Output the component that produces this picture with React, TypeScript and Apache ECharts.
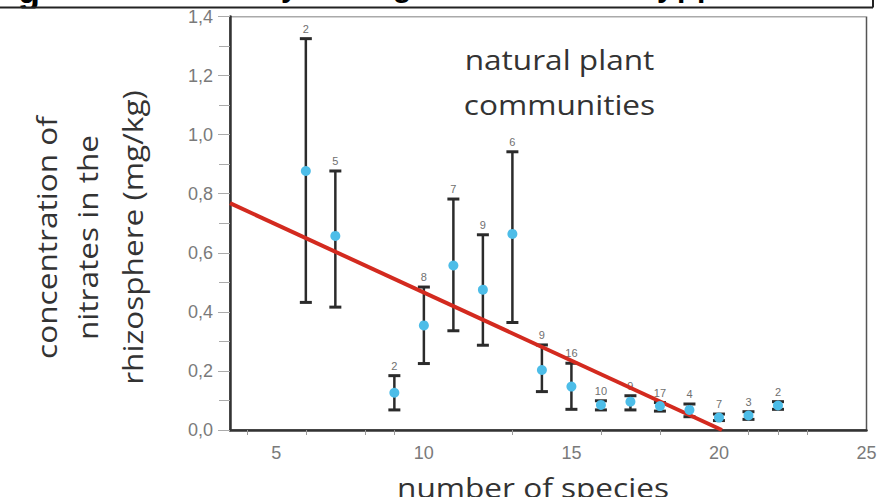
import React, { useEffect, useRef } from "react";
import * as echarts from "echarts";

const speciesCounts = [6, 7, 9, 10, 11, 12, 13, 14, 15, 16, 17, 18, 19, 20, 21, 22];
const meanNitrate = [0.877, 0.657, 0.126, 0.354, 0.557, 0.475, 0.664, 0.203, 0.147, 0.085, 0.096, 0.081, 0.068, 0.042, 0.049, 0.083];
const upperNitrate = [1.325, 0.877, 0.184, 0.484, 0.782, 0.661, 0.942, 0.288, 0.226, 0.099, 0.116, 0.093, 0.088, 0.054, 0.062, 0.096];
const lowerNitrate = [0.432, 0.416, 0.068, 0.225, 0.336, 0.287, 0.364, 0.13, 0.07, 0.068, 0.068, 0.064, 0.045, 0.032, 0.036, 0.07];
const sampleSizes = ["2", "5", "2", "8", "7", "9", "6", "9", "16", "10", "9", "17", "4", "7", "3", "2"];
const trendX = [3.43, 20.1];
const trendY = [0.768, 0];
const xLabelValues = [5, 10, 15, 20, 25];
const xTickValues = [4, 6, 8, 9, 13, 16, 18, 21, 22, 23];
const yAxisTitleLines = ["concentration of", "nitrates in the", "rhizosphere (mg/kg)"];
const annotationLines = ["natural plant", "communities"];
const xAxisTitle = "number of species";
const titleFragments = ["g", "y", "g", "y", "p", "p"];

export default function App() {
  const ref = useRef<HTMLDivElement>(null);

  useEffect(() => {
    if (!ref.current) return;
    const chart = echarts.init(ref.current, undefined, { renderer: "svg" });

    const errData = speciesCounts.map((x, i) => [x, lowerNitrate[i], upperNitrate[i]]);
    const pointData = speciesCounts.map((x, i) => [x, meanNitrate[i]]);
    const trendData = trendX.map((x, i) => [x, trendY[i]]);

    const textFont = '27px "Open Sans"';
    const textColor = "#333";
    const stretch = 1.17;

    const yTitleX = [47, 88, 133];
    const fragX = [18, 281, 393, 657, 677, 697];

    const graphic: any[] = [
      ...titleFragments.map((t, i) => ({
        type: "text",
        x: fragX[i],
        y: i === 0 ? -10 : -14,
        style: {
          text: t,
          font: i === 0 ? 'bold 36px "Liberation Sans"' : 'bold 30px "Liberation Sans"',
          fill: "#000",
          align: "left",
          textAlign: "left",
          verticalAlign: "middle",
          textVerticalAlign: "middle",
        },
      })),
      { type: "rect", shape: { x: 0, y: 8.5, width: 884, height: 8 }, style: { fill: "#fff" } },
      { type: "line", shape: { x1: 0, y1: 7.5, x2: 873, y2: 7.5 }, style: { stroke: "#222", lineWidth: 2 } },
      { type: "line", shape: { x1: 873, y1: 0, x2: 873, y2: 7.5 }, style: { stroke: "#222", lineWidth: 2 } },
      ...yAxisTitleLines.map((t, i) => ({
        type: "text",
        x: yTitleX[i],
        y: 237.5,
        rotation: Math.PI / 2,
        scaleX: stretch,
        style: {
          text: t,
          font: textFont,
          fill: textColor,
          align: "center",
          textAlign: "center",
          verticalAlign: "middle",
          textVerticalAlign: "middle",
        },
      })),
      ...annotationLines.map((t, i) => ({
        type: "text",
        x: 559.5,
        y: 60 + i * 45,
        scaleX: stretch,
        style: {
          text: t,
          font: textFont,
          fill: textColor,
          align: "center",
          textAlign: "center",
          verticalAlign: "middle",
          textVerticalAlign: "middle",
        },
      })),
      {
        type: "text",
        x: 533,
        y: 488,
        scaleX: stretch,
        style: {
          text: xAxisTitle,
          font: textFont,
          fill: textColor,
          align: "center",
          textAlign: "center",
          verticalAlign: "middle",
          textVerticalAlign: "middle",
        },
      },
    ];

    chart.setOption({
      animation: false,
      backgroundColor: "#fff",
      grid: {
        left: 230,
        right: 17.5,
        top: 16.5,
        bottom: 67,
        show: true,
        borderColor: "#555",
        borderWidth: 1.5,
      },
      xAxis: {
        type: "value",
        min: 3.43,
        max: 25,
        axisLine: { show: true, onZero: false, lineStyle: { color: "#333", width: 2.5 } },
        splitLine: { show: false },
        axisTick: {
          show: true,
          customValues: xTickValues,
          length: 5,
          lineStyle: { color: "#999", width: 1 },
        },
        axisLabel: {
          customValues: xLabelValues,
          margin: 14,
          color: "#7a7a7a",
          fontSize: 18,
          fontFamily: "Liberation Sans",
        },
      },
      yAxis: {
        type: "value",
        min: 0,
        max: 1.4,
        interval: 0.2,
        axisLine: { show: true, onZero: false, lineStyle: { color: "#333", width: 2.5 } },
        splitLine: { show: false },
        axisTick: { show: true, length: 12, lineStyle: { color: "#aaa", width: 1 } },
        minorTick: { show: true, splitNumber: 2, length: 11, lineStyle: { color: "#aaa", width: 1 } },
        axisLabel: {
          margin: 17,
          color: "#7a7a7a",
          fontSize: 18,
          fontFamily: "Liberation Sans",
          formatter: (v: number) => v.toFixed(1).replace(".", ","),
        },
      },
      series: [
        {
          type: "custom",
          z: 1,
          clip: false,
          data: errData,
          encode: { x: 0, y: [1, 2] },
          renderItem: (params: any, api: any) => {
            const x = api.value(0);
            const top = api.coord([x, api.value(2)]);
            const bot = api.coord([x, api.value(1)]);
            const stroke = "#2b2b2b";
            const lw = 2.5;
            const cap = 6;
            return {
              type: "group",
              children: [
                { type: "line", shape: { x1: top[0], y1: top[1], x2: bot[0], y2: bot[1] }, style: { stroke, lineWidth: lw } },
                { type: "line", shape: { x1: top[0] - cap, y1: top[1], x2: top[0] + cap, y2: top[1] }, style: { stroke, lineWidth: 3 } },
                { type: "line", shape: { x1: bot[0] - cap, y1: bot[1], x2: bot[0] + cap, y2: bot[1] }, style: { stroke, lineWidth: 3 } },
                {
                  type: "text",
                  x: top[0],
                  y: top[1] - 10,
                  style: {
                    text: sampleSizes[params.dataIndex],
                    font: '11px "Liberation Sans"',
                    fill: "#6f6f6f",
                    align: "center",
                    textAlign: "center",
                    verticalAlign: "middle",
                    textVerticalAlign: "middle",
                  },
                },
              ],
            };
          },
        },
        {
          type: "line",
          z: 2,
          data: trendData,
          showSymbol: false,
          symbol: "none",
          lineStyle: { color: "#d32a1f", width: 4 },
        },
        {
          type: "scatter",
          z: 3,
          data: pointData,
          symbol: "circle",
          symbolSize: 10,
          itemStyle: { color: "#4dbde8", opacity: 1 },
        },
      ],
      graphic,
    });

    return () => chart.dispose();
  }, []);

  return (
    <div
      ref={ref}
      style={{ position: "absolute", left: 0, top: 0, width: 884, height: 497, background: "#fff" }}
    />
  );
}
